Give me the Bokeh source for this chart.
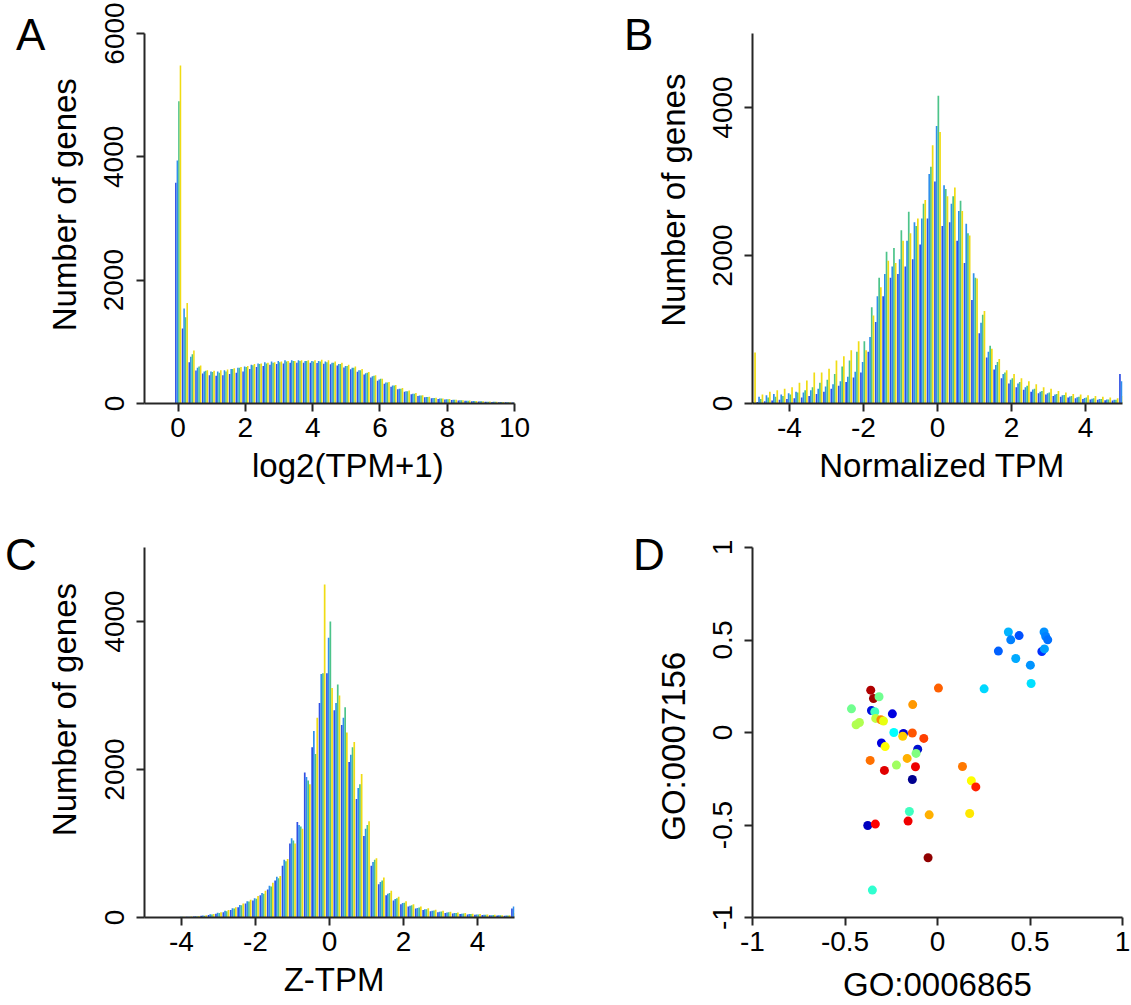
from bokeh.plotting import figure
from bokeh.models import FixedTicker, ColumnDataSource, CustomJSTickFormatter, Div
from bokeh.layouts import column, row
from bokeh.transform import dodge
from bokeh.embed import file_html
from bokeh.resources import INLINE

FONT = "Liberation Sans"
NB = "\u00a0"

# ---------------- data ----------------
# Panel A : log2(TPM+1) histogram, bin centres 0 .. 10 (step 0.2)
A_centers = [round(0.2 * i, 1) for i in range(51)]
A_blue = [3580, 1215, 670, 535, 486, 460, 450, 460, 480, 500, 520, 560, 590, 610, 630, 640, 650, 660, 660, 660,
          660, 655, 645, 635, 615, 585, 555, 515, 470, 420, 370, 320, 270, 230, 190, 150, 120, 100, 85, 75,
          66, 57, 50, 43, 38, 33, 28, 25, 22, 19, 16]
A_azure = [3940, 1540, 760, 580, 520, 520, 520, 540, 560, 580, 600, 630, 650, 670, 680, 690, 700, 700, 700, 690,
           690, 690, 680, 660, 640, 610, 580, 540, 490, 440, 390, 340, 290, 240, 200, 160, 130, 105, 90, 80,
           70, 60, 52, 45, 40, 35, 30, 27, 24, 21, 18]
A_green = [4900, 1400, 800, 600, 530, 510, 500, 520, 560, 580, 590, 620, 640, 650, 660, 670, 680, 690, 690, 690,
           680, 680, 670, 660, 640, 610, 580, 540, 500, 450, 400, 340, 290, 240, 200, 160, 130, 105, 90, 80,
           70, 60, 52, 45, 40, 35, 30, 27, 24, 21, 18]
A_yellow = [5480, 1630, 860, 616, 540, 530, 540, 550, 570, 590, 610, 640, 650, 660, 670, 680, 690, 690, 700, 700,
            700, 710, 700, 680, 660, 630, 600, 560, 510, 460, 400, 350, 300, 250, 210, 170, 135, 110, 92, 82,
            72, 62, 54, 47, 42, 37, 32, 28, 25, 22, 19]

# Panel B : normalized TPM histogram, bin centres -5 .. 5 (step 0.2)
B_centers = [round(-5 + 0.2 * i, 1) for i in range(51)]
B_blue = [20, 20, 30, 40, 50, 60, 70, 80, 100, 130, 160, 200, 240, 290, 350, 420, 700, 1100, 1450, 1700,
          1750, 1850, 1950, 2150, 2500, 3000, 2400, 2450, 2200, 1900, 1400, 950, 620, 460, 340, 270, 220, 185, 160, 140,
          120, 100, 90, 80, 70, 60, 55, 50, 45, 40, 400]
B_azure = [30, 90, 110, 130, 120, 140, 160, 150, 180, 200, 230, 260, 300, 360, 430, 560, 900, 1450, 1750, 1850,
           1950, 2200, 2450, 2500, 3100, 3750, 2950, 2700, 2600, 2430, 1760, 1090, 700, 520, 400, 320, 270, 220, 190, 160,
           140, 120, 110, 95, 85, 75, 65, 60, 55, 50, 300]
B_green = [20, 60, 80, 90, 100, 120, 150, 180, 220, 280, 320, 400, 500, 580, 700, 840, 1300, 1700, 2050, 2100,
           2340, 2590, 2400, 2700, 3200, 4160, 2900, 2800, 2740, 2300, 1700, 1200, 780, 560, 420, 340, 290, 240, 200, 170,
           150, 130, 115, 100, 90, 80, 70, 60, 55, 50, 150]
B_yellow = [690, 120, 160, 180, 200, 220, 280, 310, 420, 420, 470, 580, 640, 720, 840, 720, 1190, 1570, 1930, 1900,
            2200, 2300, 2500, 2750, 3490, 3670, 2800, 2920, 2600, 2270, 1690, 1250, 740, 600, 450, 400, 340, 300, 260, 220,
            200, 170, 150, 130, 120, 110, 100, 90, 80, 70, 100]

# Panel C : Z-TPM histogram, bin centres -5 .. 5 (step 0.2)
C_centers = [round(-5 + 0.2 * i, 1) for i in range(51)]
C_blue = [3, 3, 3, 5, 6, 8, 10, 14, 22, 35, 50, 70, 100, 140, 190, 230, 300, 380, 500, 700,
          1000, 1290, 1960, 2300, 2900, 3300, 2800, 2600, 2100, 1600, 1100, 700, 450, 300, 230, 180, 150, 120, 100, 85,
          72, 62, 54, 48, 42, 37, 33, 30, 27, 25, 120]
C_azure = [3, 3, 4, 5, 7, 9, 11, 16, 28, 45, 65, 90, 125, 170, 220, 260, 330, 430, 550, 780,
           1070, 1250, 1900, 2520, 3290, 3780, 2900, 2700, 2200, 1750, 1200, 750, 480, 320, 250, 195, 160, 130, 110, 92,
           78, 68, 60, 52, 46, 41, 36, 32, 29, 27, 150]
C_green = [3, 3, 4, 5, 7, 9, 11, 15, 25, 40, 60, 85, 120, 165, 215, 255, 320, 420, 530, 760,
           1040, 1230, 1850, 2210, 3300, 4000, 3150, 2840, 2300, 1800, 1250, 780, 500, 330, 260, 200, 165, 135, 110, 95,
           80, 70, 62, 54, 48, 42, 37, 33, 30, 27, 100]
C_yellow = [3, 3, 4, 5, 7, 9, 12, 18, 30, 48, 70, 100, 140, 190, 240, 290, 360, 470, 560, 790,
            1000, 1200, 1800, 2700, 4500, 3100, 3000, 2500, 2370, 1940, 1300, 800, 540, 360, 280, 220, 180, 150, 125, 105,
            90, 78, 68, 60, 52, 46, 40, 36, 32, 29, 60]

# Panel D : scatter GO:0006865 vs GO:0007156
D_x = [0.383, 0.441, 0.396, 0.329, 0.423, 0.502, 0.506, 0.252, 0.576, 0.585, 0.596, 0.564, 0.578,
       0.005, -0.134, -0.361, -0.346, -0.316, -0.465, -0.357, -0.339, -0.244, -0.440, -0.422, -0.334,
       -0.306, -0.292, -0.236, -0.184, -0.188, -0.136, -0.074, -0.303, -0.283, -0.107, -0.116, -0.364,
       -0.164, -0.222, -0.287, -0.119, -0.136, 0.135, 0.183, 0.207, -0.152, -0.045, 0.174, -0.377,
       -0.336, -0.159, -0.051, -0.352]
D_y = [0.543, 0.524, 0.501, 0.440, 0.400, 0.364, 0.265, 0.236, 0.543, 0.519, 0.501, 0.438, 0.452,
       0.240, 0.151, 0.229, 0.184, 0.193, 0.128, 0.119, 0.112, 0.101, 0.042, 0.054, 0.076,
       0.069, 0.062, 0.000, -0.005, -0.020, -0.003, -0.032, -0.057, -0.076, -0.090, -0.113, -0.151,
       -0.140, -0.176, -0.205, -0.185, -0.254, -0.184, -0.261, -0.294, -0.427, -0.445, -0.438, -0.503,
       -0.495, -0.479, -0.677, -0.852]
D_col = ["#00b4ff", "#0050ff", "#0080ff", "#0060ff", "#00aaff", "#0094ff", "#00e0ff", "#00d8ff", "#0090ff",
         "#0080ff", "#0070ff", "#0030ff", "#00a0ff", "#ff6000", "#ff9800", "#b00000", "#a00000", "#70ff90",
         "#70ff8f", "#0010e0", "#40ffc0", "#0000e0", "#b0ff50", "#b0ff50", "#c0ff40", "#ff8800", "#e8ff10",
         "#00ffff", "#0000d0", "#ffcc00", "#ff5500", "#ff4000", "#0000e0", "#ffff00", "#0010d0", "#80ff80",
         "#ff7000", "#ffb000", "#a0ff60", "#e00000", "#ee0000", "#000090", "#ff7800", "#ffff00", "#ff2000",
         "#40ffc0", "#ffb000", "#ffe800", "#0000c0", "#ff0000", "#f00000", "#900000", "#30ffd0"]

SERIES_COLORS = ["#3050e4", "#2f8fec", "#4cc48a", "#f0dc14"]
PANEL_LETTERS = ["A", "B", "C", "D"]

# ---------------- helpers ----------------
def make_fig(xr, yr, bl, bt, br, bb):
    p = figure(frame_width=370, frame_height=370, x_range=xr, y_range=yr,
               min_border_left=bl, min_border_top=bt, min_border_right=br, min_border_bottom=bb,
               output_backend="svg", toolbar_location=None)
    p.xgrid.visible = False
    p.ygrid.visible = False
    p.outline_line_color = None
    p.border_fill_color = "white"
    p.background_fill_color = "white"
    for ax in (p.xaxis[0], p.yaxis[0]):
        ax.axis_line_width = 2
        ax.axis_line_color = "#262626"
        ax.major_tick_line_width = 2
        ax.major_tick_line_color = "#262626"
        ax.major_tick_in = 0
        ax.major_tick_out = 8
        ax.minor_tick_line_color = None
        ax.major_label_text_font = FONT
        ax.major_label_text_font_size = "28px"
        ax.major_label_text_color = "black"
        ax.axis_label_text_font = FONT
        ax.axis_label_text_font_size = "33px"
        ax.axis_label_text_font_style = "normal"
        ax.axis_label_text_color = "black"
        ax.formatter = CustomJSTickFormatter(code="return String(tick);")
    p.yaxis.major_label_orientation = "vertical"
    p.xaxis.major_label_standoff = 6
    p.yaxis.major_label_standoff = 13
    return p


def draw_hist(p, centers, series):
    data = {"x": centers}
    for i, vals in enumerate(series):
        data["s%d" % i] = vals
    src = ColumnDataSource(data)
    offs = [-0.069, -0.023, 0.023, 0.069]
    for i, (col, off) in enumerate(zip(SERIES_COLORS, offs)):
        p.vbar(x=dodge("x", off), top="s%d" % i, bottom=0, width=0.046, source=src,
               fill_color=col, fill_alpha=1.0, line_color=None)


# ---------------- panel A ----------------
pA = make_fig((-1, 10), (0, 6000), 144, 33, 51, 97)
draw_hist(pA, A_centers, [A_blue, A_azure, A_green, A_yellow])
pA.xaxis.ticker = FixedTicker(ticks=[0, 2, 4, 6, 8, 10])
pA.yaxis.ticker = FixedTicker(ticks=[0, 2000, 4000, 6000])
pA.xaxis.axis_label = NB * 4 + "log2(TPM+1)"
pA.xaxis.axis_label_standoff = 7
pA.yaxis.axis_label = NB * 3 + "Number of genes"
pA.yaxis.axis_label_standoff = 19

# ---------------- panel B ----------------
pB = make_fig((-5, 5), (0, 5000), 187, 33, 9, 97)
draw_hist(pB, B_centers, [B_blue, B_azure, B_green, B_yellow])
pB.xaxis.ticker = FixedTicker(ticks=[-4, -2, 0, 2, 4])
pB.yaxis.ticker = FixedTicker(ticks=[0, 2000, 4000])
pB.xaxis.axis_label = NB + "Normalized TPM"
pB.xaxis.axis_label_standoff = 7
pB.yaxis.axis_label = NB * 4 + "Number of genes"
pB.yaxis.axis_label_standoff = 18

# ---------------- panel C ----------------
pC = make_fig((-5, 5), (0, 5000), 144, 47, 51, 88)
draw_hist(pC, C_centers, [C_blue, C_azure, C_green, C_yellow])
pC.xaxis.ticker = FixedTicker(ticks=[-4, -2, 0, 2, 4])
pC.yaxis.ticker = FixedTicker(ticks=[0, 2000, 4000])
pC.xaxis.axis_label = NB + "Z-TPM"
pC.xaxis.axis_label_standoff = 7
pC.yaxis.axis_label = NB * 5 + "Number of genes"
pC.yaxis.axis_label_standoff = 19

# ---------------- panel D ----------------
pD = make_fig((-1, 1), (-1, 1), 187, 47, 9, 88)
srcD = ColumnDataSource(dict(x=D_x, y=D_y, c=D_col))
pD.scatter("x", "y", source=srcD, size=9, fill_color="c", line_color=None)
pD.xaxis.ticker = FixedTicker(ticks=[-1, -0.5, 0, 0.5, 1])
pD.yaxis.ticker = FixedTicker(ticks=[-1, -0.5, 0, 0.5, 1])
pD.xaxis.axis_label = "GO:0006865"
pD.xaxis.axis_label_standoff = 12
pD.yaxis.axis_label = "GO:0007156" + NB * 3
pD.yaxis.axis_label_standoff = 18

# ---------------- panel letters (HTML overlay) ----------------
letter_pos = [(16, 13), (624, 13), (5, 533), (633, 533)]
spans = "".join(
    '<span style="position:absolute;left:%dpx;top:%dpx;font-family:\'%s\';font-size:44px;'
    'line-height:44px;color:#000;white-space:nowrap;">%s</span>' % (lx, ly, FONT, t)
    for t, (lx, ly) in zip(PANEL_LETTERS, letter_pos))
overlay = Div(text='<div style="position:relative;width:1131px;height:1005px;">' + spans + '</div>',
              width=1131, height=1005,
              styles={"position": "absolute", "left": "0px", "top": "0px", "z-index": "10",
                      "pointer-events": "none", "margin": "0px", "padding": "0px"})

layout = column(overlay, row(pA, pB), row(pC, pD))
open("out.html", "w").write(file_html(layout, INLINE))
